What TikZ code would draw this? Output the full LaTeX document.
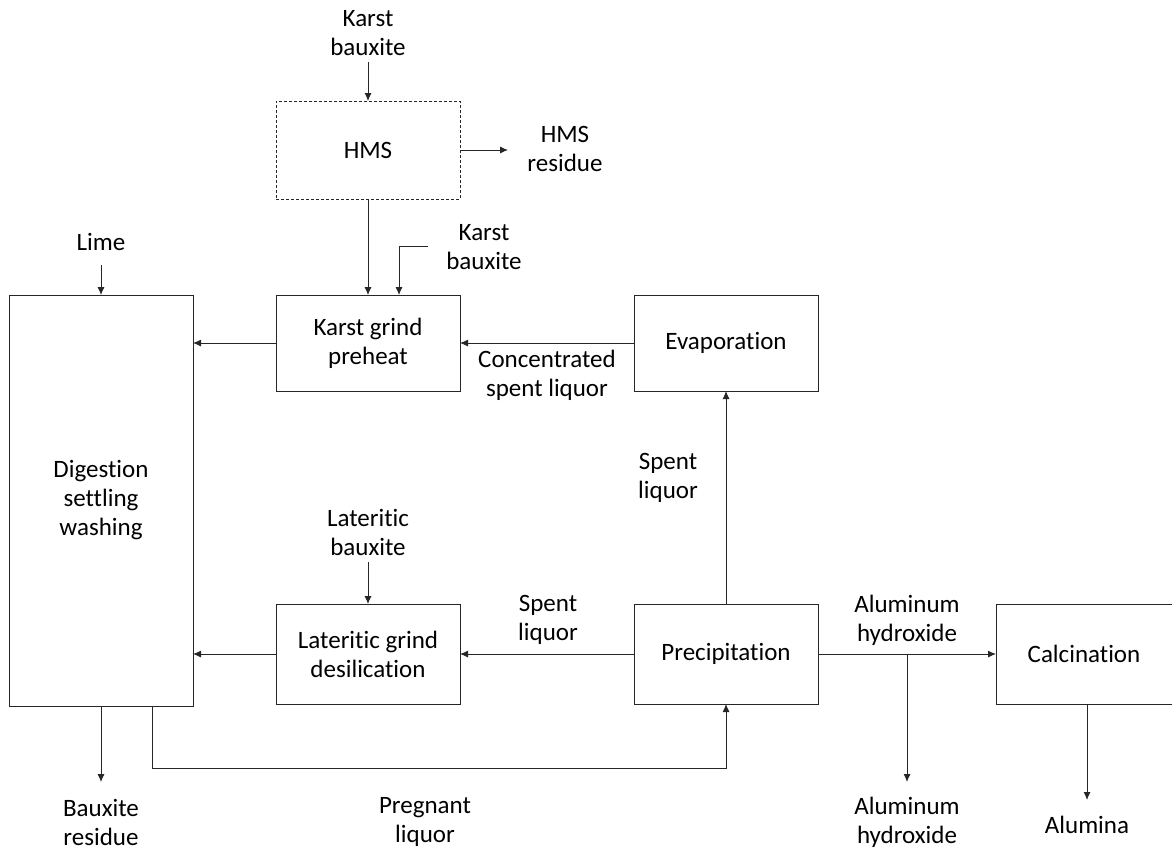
\documentclass[tikz,border=0pt]{standalone}
\usepackage{fontspec}
\setmainfont{Carlito}[Ligatures=NoCommon]
\usetikzlibrary{arrows.meta,calc}
\begin{document}
\begin{tikzpicture}[x=1pt,y=-1pt,
  every node/.style={font=\fontsize{25}{29}\selectfont, text=black},
  box/.style={draw=black!85, line width=0.9pt, inner sep=0pt, outer sep=0pt, align=center},
  lbl/.style={align=center, inner sep=0pt},
  arr/.style={draw=black!85, line width=0.9pt, -{Latex[length=8pt,width=7pt]}},
  ln/.style={draw=black!85, line width=0.9pt}]
\useasboundingbox[fill=white] (0,0) rectangle (1172,852);
% boxes
\node[box, dash pattern=on 3pt off 2pt, minimum width=184pt, minimum height=98pt] (hms) at (368,150) {HMS};
\node[box, minimum width=184pt, minimum height=96pt] (kgp) at (368,343) {Karst grind\\preheat};
\node[box, minimum width=184pt, minimum height=96pt] (evap) at (726,343) {Evaporation};
\node[box, minimum width=184pt, minimum height=411pt] (dig) at (101,500.5) {Digestion\\settling\\washing};
\node[box, minimum width=184pt, minimum height=100pt] (lgd) at (368,654) {Lateritic grind\\desilication};
\node[box, minimum width=184pt, minimum height=100pt] (prec) at (726,654) {Precipitation};
\node[box, minimum width=184pt, minimum height=100pt] (calc) at (1088,654) {};
\node[lbl] (calctext) at (1084,654) {Calcination};
% labels
\node[lbl] (kb1) at (368,33) {Karst\\bauxite};
\node[lbl] (hmsres) at (565,149) {HMS\\residue};
\node[lbl] (kb2) at (484,247) {Karst\\bauxite};
\node[lbl] (lime) at (101,242) {Lime};
\node[lbl] (csl) at (547,375) {Concentrated\\spent liquor};
\node[lbl] (sl1) at (668,478) {Spent\\liquor};
\node[lbl] (latb) at (368,532) {Lateritic\\bauxite};
\node[lbl] (sl2) at (548,620) {Spent\\liquor};
\node[lbl] (ah1) at (907,620) {Aluminum\\hydroxide};
\node[lbl] (bres) at (101,822) {Bauxite\\residue};
\node[lbl] (preg) at (425,822) {Pregnant\\liquor};
\node[lbl] (ah2) at (907,822) {Aluminum\\hydroxide};
\node[lbl] (alum) at (1087,825) {Alumina};
% coordinates
\coordinate (kbin) at (428,246);
\coordinate (kbend) at (399,295);
\coordinate (hmsresend) at (508,150);
\coordinate (bresend) at (101,782);
\coordinate (pregstart) at (152,706);
\coordinate (pregcorner) at (152,768);
\coordinate (ahj) at (907,654);
\coordinate (ahend) at (907,782);
\coordinate (alumend) at (1087,800);
% connectors
\draw[arr] (368,62) -- (hms.north);
\draw[arr] (hms.east) -- (hmsresend);
\draw[arr] (hms.south) -- (kgp.north);
\draw[arr] (kbin) -| (kbend);
\draw[arr] (101,265) -- (dig.north);
\draw[arr] (kgp.west) -- (kgp.west -| dig.east);
\draw[arr] (evap.west) -- (kgp.east);
\draw[arr] (prec.north) -- (evap.south);
\draw[arr] (368,562) -- (lgd.north);
\draw[arr] (prec.west) -- (lgd.east);
\draw[arr] (lgd.west) -- (lgd.west -| dig.east);
\draw[arr] (prec.east) -- (calc.west);
\draw[arr] (ahj) -- (ahend);
\draw[arr] (1087,704) -- (alumend);
\draw[arr] (101,706) -- (bresend);
\draw[arr] (pregstart) -- (pregcorner) -| (prec.south);
\end{tikzpicture}
\end{document}
